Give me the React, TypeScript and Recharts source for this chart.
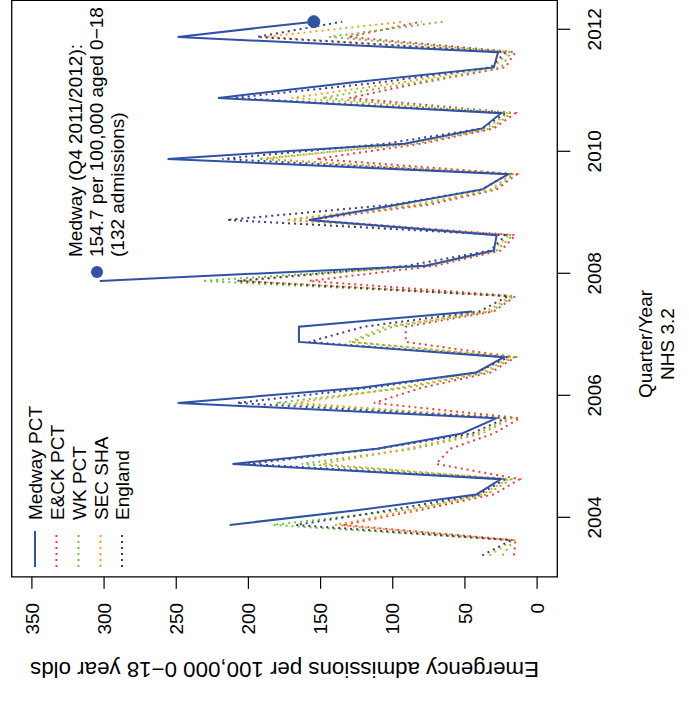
import React from "react";
import {
  LineChart,
  Line,
  XAxis,
  YAxis,
  ReferenceArea,
  ReferenceDot,
} from "recharts";

// quarter mid-points (calendar year), Q1 2003/04 .. Q4 2011/12
const quarters = [
  2003.375, 2003.625, 2003.875, 2004.125, 2004.375, 2004.625, 2004.875, 2005.125,
  2005.375, 2005.625, 2005.875, 2006.125, 2006.375, 2006.625, 2006.875, 2007.125,
  2007.375, 2007.625, 2007.875, 2008.125, 2008.375, 2008.625, 2008.875, 2009.125,
  2009.375, 2009.625, 2009.875, 2010.125, 2010.375, 2010.625, 2010.875, 2011.125,
  2011.375, 2011.625, 2011.875, 2012.125,
];

const medway = [
  null, null, 213, 122, 42, 25, 211, 111,
  52, 28, 249, 122, 42, 23, 165, 165,
  45, null, 303, 77, 30, 28, 158, 97,
  38, 20, 256, 92, 38, 25, 221, 130,
  30, 27, 249, 154.7,
];

const eck = [
  16, 15, 135, 80, 30, 12, 70, 60,
  30, 12, 113, 80, 32, 15, 91, 91,
  30, 15, 158, 70, 25, 15, 158, 75,
  28, 14, 153, 80, 30, 15, 130, 80,
  22, 15, 131, 80,
];

const wk = [
  24, 16, 183, 90, 35, 18, 163, 85,
  38, 18, 181, 90, 35, 16, 128, 100,
  32, 16, 232, 75, 28, 17, 172, 80,
  30, 16, 193, 85, 32, 18, 149, 85,
  25, 18, 144, 65,
];

const sec = [
  33, 17, 140, 85, 38, 20, 149, 90,
  42, 20, 167, 95, 38, 18, 130, 105,
  35, 18, 205, 80, 30, 20, 174, 85,
  32, 18, 188, 90, 35, 20, 170, 95,
  30, 20, 189, 92,
];

const england = [
  38, 18, 167, 100, 40, 22, 200, 110,
  45, 22, 208, 115, 42, 20, 158, 120,
  40, 20, 208, 90, 32, 22, 215, 100,
  38, 20, 218, 105, 38, 22, 210, 110,
  32, 22, 194, 135,
];

const yearTicks = [2004, 2006, 2008, 2010, 2012];
const rateTicks = [0, 50, 100, 150, 200, 250, 300, 350];

const latest = { t: 2012.125, value: 154.7 };

const data = quarters.map((t, i) => ({
  t,
  medway: medway[i],
  eck: eck[i],
  wk: wk[i],
  sec: sec[i],
  england: england[i],
}));

const FONT = "'Liberation Sans', Arial, Helvetica, sans-serif";
const COLORS = {
  medway: "#3052a4",
  eck: "#f23c3c",
  wk: "#6cc23a",
  sec: "#f7a21e",
  england: "#3a3a8c",
};
const DOTS = "2 4";

const legendItems = [
  { label: "Medway PCT", color: COLORS.medway, dash: undefined },
  { label: "E&CK PCT", color: COLORS.eck, dash: DOTS },
  { label: "WK PCT", color: COLORS.wk, dash: DOTS },
  { label: "SEC SHA", color: COLORS.sec, dash: DOTS },
  { label: "England", color: COLORS.england, dash: DOTS },
];

const W = 706;
const H = 689;

function Overlay() {
  const rows = [35, 56.5, 78.5, 100.5, 122];
  return (
    <svg
      width={W}
      height={H}
      style={{ position: "absolute", left: 0, top: 0, pointerEvents: "none" }}
      fontFamily={FONT}
      fontSize={19}
    >
      {/* legend */}
      {legendItems.map((item, i) => (
        <g key={item.label}>
          <line
            x1={139}
            x2={175}
            y1={rows[i]}
            y2={rows[i]}
            stroke={item.color}
            strokeWidth={2}
            strokeDasharray={item.dash}
          />
          <text x={186} y={rows[i] + 7} fill="#000">
            {item.label}
          </text>
        </g>
      ))}

      {/* note on the latest Medway quarter */}
      <circle cx={434} cy={97} r={6} fill={COLORS.medway} />
      <text x={449} y={82} fill="#000">
        Medway (Q4 2011/2012):
      </text>
      <text x={449} y={103} fill="#000">
        154.7 per 100,000 aged 0−18
      </text>
      <text x={449} y={124} fill="#000">
        (132 admissions)
      </text>

      {/* axis titles */}
      <text x={362} y={652} textAnchor="middle" fill="#000">
        Quarter/Year
      </text>
      <text x={362} y={674} textAnchor="middle" fill="#000">
        NHS 3.2
      </text>
      <text
        x={0}
        y={0}
        transform="translate(44 284.5) rotate(-90)"
        textAnchor="middle"
        fill="#000"
        fontSize={22.3}
      >
        Emergency admissions per 100,000 0−18 year olds
      </text>
    </svg>
  );
}

export default function App() {
  return (
    <div
      style={{
        position: "fixed",
        left: 0,
        top: 0,
        width: 689,
        height: 706,
        background: "#fff",
        overflow: "hidden",
      }}
    >
      <div
        style={{
          position: "absolute",
          left: 0,
          top: 0,
          width: W,
          height: H,
          transformOrigin: "0 0",
          transform: "translate(0px, 706px) rotate(-90deg)",
        }}
      >
        <LineChart
          width={W}
          height={H}
          data={data}
          margin={{ top: 11.7, right: 0.3, left: 0, bottom: 0 }}
        >
          <XAxis
            dataKey="t"
            type="number"
            domain={[2003.025, 2012.475]}
            ticks={yearTicks}
            interval={0}
            allowDataOverflow
            height={131.7}
            axisLine={false}
            tickLine={{ stroke: "#000", strokeWidth: 1.2 }}
            tickSize={13}
            tickMargin={17}
            tick={{ fill: "#000", fontSize: 19, fontFamily: FONT }}
          />
          <YAxis
            type="number"
            domain={[-14, 364]}
            ticks={rateTicks}
            interval={0}
            allowDataOverflow
            width={129.2}
            axisLine={false}
            tickLine={{ stroke: "#000", strokeWidth: 1.2 }}
            tickSize={12}
            tickMargin={14}
            tick={{ fill: "#000", fontSize: 19, fontFamily: FONT }}
          />
          <ReferenceArea
            x1={2003.025}
            x2={2012.475}
            y1={-14}
            y2={364}
            fill="none"
            stroke="#000"
            strokeWidth={1.3}
            ifOverflow="visible"
          />
          <Line
            dataKey="eck"
            type="linear"
            stroke={COLORS.eck}
            strokeWidth={2}
            strokeDasharray={DOTS}
            dot={false}
            isAnimationActive={false}
          />
          <Line
            dataKey="wk"
            type="linear"
            stroke={COLORS.wk}
            strokeWidth={2}
            strokeDasharray={DOTS}
            dot={false}
            isAnimationActive={false}
          />
          <Line
            dataKey="sec"
            type="linear"
            stroke={COLORS.sec}
            strokeWidth={2}
            strokeDasharray={DOTS}
            dot={false}
            isAnimationActive={false}
          />
          <Line
            dataKey="england"
            type="linear"
            stroke={COLORS.england}
            strokeWidth={2}
            strokeDasharray={DOTS}
            dot={false}
            isAnimationActive={false}
          />
          <Line
            dataKey="medway"
            type="linear"
            stroke={COLORS.medway}
            strokeWidth={2}
            dot={false}
            connectNulls={false}
            isAnimationActive={false}
          />
          <ReferenceDot
            x={latest.t}
            y={latest.value}
            r={6}
            fill={COLORS.medway}
            stroke={COLORS.medway}
            ifOverflow="visible"
          />
        </LineChart>
        <Overlay />
      </div>
    </div>
  );
}
